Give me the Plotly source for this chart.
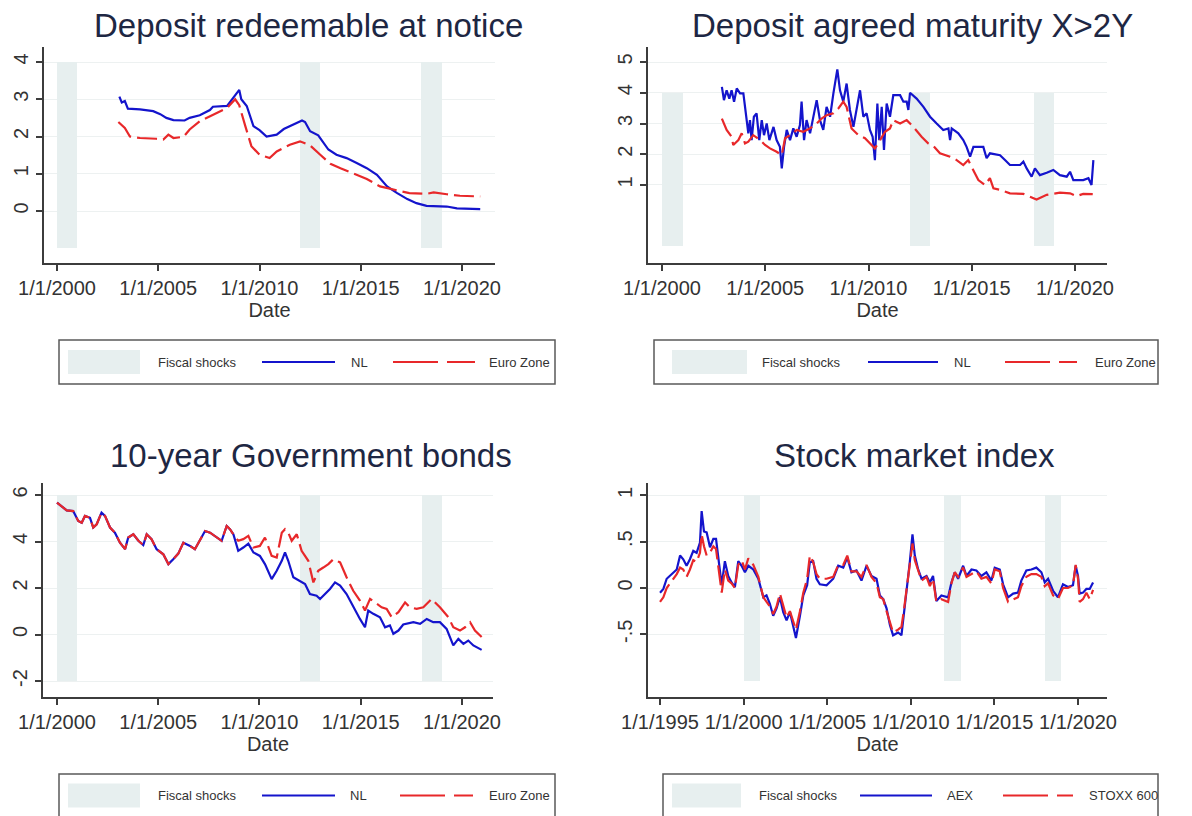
import plotly.graph_objects as go

W, H = 1192, 816

# ---------------- data ----------------
shock_start = [2000, 2012, 2018]
shock_end = [2001, 2013, 2019]

# Panel 1: Deposit redeemable at notice
p1_nl_t = [2003.08, 2003.2, 2003.35, 2003.5, 2004.1, 2004.75, 2005.1, 2005.4, 2005.75, 2006.3, 2006.55,
           2007.05, 2007.55, 2007.7, 2008.4, 2008.7, 2009.0, 2009.1, 2009.37, 2009.7, 2010.0, 2010.35,
           2010.85, 2011.2, 2011.65, 2012.1, 2012.25, 2012.5, 2012.9, 2013.4, 2013.8, 2014.3, 2014.8,
           2015.3, 2015.8, 2016.3, 2016.8, 2017.3, 2017.75, 2018.25, 2019.25, 2019.75, 2020.9]
p1_nl_v = [3.07, 2.91, 2.95, 2.75, 2.73, 2.68, 2.6, 2.5, 2.44, 2.43, 2.5,
           2.57, 2.71, 2.8, 2.82, 3.05, 3.25, 3.0, 2.82, 2.28, 2.17, 2.0,
           2.05, 2.2, 2.32, 2.43, 2.39, 2.14, 2.03, 1.65, 1.51, 1.42, 1.29,
           1.15, 0.97, 0.66, 0.48, 0.32, 0.21, 0.14, 0.12, 0.07, 0.05]
p1_ez_t = [2003.03, 2003.35, 2003.6, 2004.1, 2004.9, 2005.25, 2005.5, 2005.75, 2006.25, 2006.55, 2007.05,
           2007.7, 2008.4, 2008.8, 2009.0, 2009.3, 2009.6, 2010.0, 2010.5, 2010.85, 2011.5, 2012.0,
           2012.5, 2013.0, 2013.5, 2014.0, 2014.6, 2015.3, 2015.95, 2016.6, 2017.4, 2018.25, 2018.6,
           2019.25, 2019.9, 2020.9]
p1_ez_v = [2.39, 2.23, 2.0, 1.96, 1.94, 1.92, 2.05, 1.96, 1.99, 2.19, 2.41,
           2.59, 2.77, 3.0, 2.84, 2.28, 1.74, 1.51, 1.42, 1.6, 1.78, 1.87,
           1.76, 1.51, 1.27, 1.15, 1.02, 0.86, 0.66, 0.57, 0.48, 0.46, 0.5,
           0.45, 0.41, 0.39]

# Panel 2: Deposit agreed maturity X>2Y
p2_nl_t = [2002.9, 2003.0, 2003.13, 2003.26, 2003.37, 2003.49, 2003.62, 2003.78, 2003.94, 2004.1, 2004.18,
           2004.26, 2004.34, 2004.45, 2004.58, 2004.71, 2004.83, 2004.94, 2005.07, 2005.2, 2005.4, 2005.55,
           2005.71, 2005.8, 2005.91, 2006.04, 2006.2, 2006.36, 2006.52, 2006.68, 2006.76, 2006.88, 2007.0,
           2007.17, 2007.33, 2007.49, 2007.65, 2007.81, 2007.97, 2008.14, 2008.3, 2008.49, 2008.62, 2008.78,
           2008.94, 2009.1, 2009.27, 2009.43, 2009.59, 2009.75, 2009.91, 2010.07, 2010.2, 2010.31, 2010.43,
           2010.52, 2010.64, 2010.75, 2010.88, 2011.04, 2011.2, 2011.53, 2011.69, 2011.85, 2011.93, 2012.01,
           2012.33, 2012.66, 2012.98, 2013.3, 2013.62, 2013.87, 2013.95, 2014.03, 2014.35, 2014.59, 2014.75,
           2014.92, 2015.08, 2015.56, 2015.72, 2015.88, 2016.37, 2016.61, 2016.85, 2017.34, 2017.5, 2017.66,
           2017.9, 2018.06, 2018.3, 2018.63, 2018.95, 2019.27, 2019.6, 2019.76, 2019.92, 2020.4, 2020.65,
           2020.8, 2020.89]
p2_nl_v = [4.19, 3.76, 4.08, 3.81, 4.08, 3.71, 4.14, 3.98, 3.98, 3.11, 2.68,
           3.11, 2.46, 3.22, 3.33, 2.46, 3.11, 2.62, 3.0, 2.46, 2.89, 2.46,
           2.24, 1.54, 2.24, 2.79, 2.46, 2.84, 2.57, 2.95, 3.71, 2.46, 3.11,
           2.68, 3.22, 3.76, 3.11, 2.79, 3.54, 3.22, 3.98, 4.76, 4.08, 3.71,
           4.3, 3.44, 2.89, 3.54, 4.08, 3.22, 3.33, 2.79, 2.57, 1.81, 3.65,
           2.46, 3.54, 2.14, 3.65, 3.22, 3.92, 3.92, 3.71, 3.71, 3.44, 4.0,
           3.81, 3.54, 3.22, 3.0, 2.79, 2.84, 2.46, 2.84, 2.68, 2.46, 2.24,
           1.92, 2.24, 2.24, 1.87, 2.03, 1.97, 1.81, 1.65, 1.65, 1.76, 1.54,
           1.27, 1.54, 1.32, 1.4, 1.49, 1.32, 1.27, 1.43, 1.16, 1.16, 1.22,
           1.0, 1.81]
p2_ez_t = [2002.9, 2003.13, 2003.37, 2003.45, 2003.7, 2003.86, 2004.02, 2004.18, 2004.42, 2004.75, 2004.99,
           2005.23, 2005.55, 2005.8, 2005.96, 2006.2, 2006.52, 2006.84, 2007.17, 2007.49, 2007.73, 2007.97,
           2008.3, 2008.54, 2008.78, 2008.94, 2009.18, 2009.51, 2009.83, 2010.07, 2010.31, 2010.56, 2010.8,
           2011.04, 2011.2, 2011.53, 2011.85, 2012.17, 2012.57, 2012.9, 2013.14, 2013.46, 2013.95, 2014.27,
           2014.59, 2014.83, 2015.08, 2015.32, 2015.64, 2015.88, 2016.05, 2016.37, 2016.85, 2017.5, 2017.82,
           2018.14, 2018.63, 2019.27, 2019.76, 2020.08, 2020.4, 2020.86]
p2_ez_v = [3.16, 2.79, 2.57, 2.3, 2.46, 2.68, 2.35, 2.41, 2.62, 2.46, 2.3,
           2.19, 2.08, 1.97, 2.52, 2.62, 2.79, 2.73, 2.84, 3.0, 3.16, 3.27,
           3.33, 3.49, 3.71, 3.54, 2.84, 2.62, 2.52, 2.35, 2.19, 2.46, 2.73,
           2.84, 3.11, 3.0, 3.11, 2.89, 2.57, 2.35, 2.27, 2.03, 1.92, 1.81,
           1.65, 1.81, 1.49, 1.16, 1.0, 1.22, 0.89, 0.84, 0.73, 0.71, 0.62,
           0.53, 0.68, 0.75, 0.73, 0.64, 0.71, 0.7]

# Panel 3: 10-year Government bonds
p3_common_t = [2000.0, 2000.23, 2000.48, 2000.8, 2001.05, 2001.22, 2001.38, 2001.63, 2001.79, 2001.96, 2002.2,
               2002.37, 2002.62, 2002.86, 2003.11, 2003.36, 2003.52, 2003.77, 2004.02, 2004.26, 2004.43,
               2004.67, 2004.92, 2005.25, 2005.5, 2005.74, 2005.99, 2006.24, 2006.57, 2006.81, 2007.06,
               2007.31, 2007.56, 2007.8, 2008.13, 2008.38, 2008.54, 2008.71]
p3_common_v = [5.67, 5.52, 5.34, 5.31, 4.88, 4.81, 5.1, 5.02, 4.6, 4.74, 5.24,
               5.1, 4.6, 4.38, 3.95, 3.67, 4.17, 4.31, 4.03, 3.85, 4.31,
               4.1, 3.67, 3.45, 3.03, 3.24, 3.48, 3.95, 3.81, 3.67, 4.03,
               4.45, 4.38, 4.24, 4.03, 4.67, 4.53, 4.31]
p3_nl_t = p3_common_t + [2008.95, 2009.2, 2009.45, 2009.7, 2010.02, 2010.27, 2010.6, 2010.85, 2011.1, 2011.26,
                         2011.42, 2011.67, 2012.0, 2012.25, 2012.49, 2012.82, 2012.99, 2013.23, 2013.48, 2013.73,
                         2013.98, 2014.3, 2014.63, 2014.96, 2015.21, 2015.37, 2015.62, 2015.95, 2016.2, 2016.44,
                         2016.61, 2016.86, 2017.1, 2017.6, 2017.93, 2018.26, 2018.58, 2018.91, 2019.24, 2019.57,
                         2019.82, 2020.07, 2020.31, 2020.56, 2020.97]
p3_nl_v = p3_common_v + [3.6, 3.74, 3.91, 3.53, 3.38, 3.03, 2.38, 2.74, 3.17, 3.53,
                         3.17, 2.46, 2.31, 2.17, 1.74, 1.67, 1.53, 1.74, 1.96, 2.24,
                         2.1, 1.74, 1.17, 0.67, 0.31, 1.03, 0.89, 0.74, 0.31, 0.39,
                         0.03, 0.17, 0.43, 0.53, 0.46, 0.67, 0.53, 0.53, 0.24, -0.47,
                         -0.19, -0.4, -0.26, -0.47, -0.66]
p3_ez_t = p3_common_t + [2008.95, 2009.2, 2009.45, 2009.7, 2010.02, 2010.27, 2010.6, 2010.85, 2011.1, 2011.26,
                         2011.42, 2011.59, 2011.84, 2012.08, 2012.41, 2012.66, 2012.9, 2013.15, 2013.4, 2013.65,
                         2013.98, 2014.3, 2014.63, 2014.96, 2015.21, 2015.46, 2015.7, 2016.03, 2016.28, 2016.53,
                         2016.86, 2017.19, 2017.43, 2017.76, 2018.09, 2018.5, 2018.91, 2019.33, 2019.57, 2019.9,
                         2020.15, 2020.4, 2020.64, 2020.97]
p3_ez_v = p3_common_v + [4.03, 4.1, 4.24, 3.74, 3.81, 4.17, 3.38, 3.31, 4.38, 4.53,
                         4.38, 4.03, 4.31, 3.6, 3.17, 2.24, 2.74, 2.88, 3.03, 3.24,
                         3.1, 2.46, 1.88, 1.46, 1.03, 1.53, 1.38, 1.17, 1.1, 0.74,
                         0.96, 1.38, 1.17, 1.1, 1.17, 1.53, 1.17, 0.74, 0.31, 0.17,
                         0.31, 0.53, 0.17, -0.11]

# Panel 4: Stock market index
p4_t = [1995.0, 1995.2, 1995.4, 1995.6, 1995.8, 1996.0, 1996.2, 1996.39, 1996.59, 1996.79, 1996.99,
        1997.19, 1997.39, 1997.49, 1997.63, 1997.79, 1997.99, 1998.19, 1998.35, 1998.49, 1998.69, 1998.88,
        1999.08, 1999.28, 1999.48, 1999.68, 1999.88, 2000.08, 2000.28, 2000.58, 2000.88, 2001.18, 2001.37,
        2001.57, 2001.77, 2001.97, 2002.17, 2002.37, 2002.57, 2002.77, 2002.97, 2003.13, 2003.37, 2003.57,
        2003.8, 2003.96, 2004.16, 2004.36, 2004.56, 2004.96, 2005.36, 2005.66, 2005.96, 2006.2, 2006.45,
        2006.75, 2007.05, 2007.35, 2007.65, 2007.95, 2008.15, 2008.35, 2008.55, 2008.75, 2008.94, 2009.24,
        2009.44, 2009.58, 2009.74, 2009.94, 2010.1, 2010.24, 2010.44, 2010.64, 2010.94, 2011.14, 2011.33,
        2011.53, 2011.83, 2012.23, 2012.43, 2012.63, 2012.83, 2013.13, 2013.33, 2013.63, 2013.92, 2014.22,
        2014.52, 2014.82, 2015.02, 2015.32, 2015.52, 2015.82, 2016.12, 2016.41, 2016.61, 2016.91, 2017.21,
        2017.51, 2017.81, 2018.01, 2018.21, 2018.51, 2018.8, 2019.1, 2019.4, 2019.7, 2019.86, 2020.0,
        2020.1, 2020.3, 2020.5, 2020.7, 2020.9]
p4_aex = [-0.05, -0.01, 0.1, 0.13, 0.17, 0.2, 0.35, 0.31, 0.24, 0.31, 0.4,
          0.38, 0.49, 0.83, 0.61, 0.6, 0.44, 0.53, 0.53, 0.31, 0.03, 0.29,
          0.13, 0.06, 0.01, 0.29, 0.24, 0.17, 0.24, 0.2, 0.1, -0.1, -0.08,
          -0.17, -0.3, -0.22, -0.1, -0.26, -0.35, -0.26, -0.4, -0.54, -0.3, -0.08,
          0.03, 0.28, 0.29, 0.1, 0.04, 0.03, 0.1, 0.24, 0.22, 0.33, 0.17,
          0.19, 0.08, 0.24, 0.13, 0.1, -0.08, -0.12, -0.22, -0.4, -0.51, -0.48,
          -0.51, -0.3, -0.08, 0.28, 0.58, 0.35, 0.2, 0.1, 0.13, 0.06, 0.13,
          -0.14, -0.08, -0.1, 0.06, 0.17, 0.1, 0.24, 0.13, 0.2, 0.19, 0.13,
          0.17, 0.08, 0.22, 0.2, 0.04, -0.1, -0.06, -0.05, 0.08, 0.19, 0.2,
          0.22, 0.17, 0.06, 0.1, -0.03, -0.1, 0.04, 0.01, 0.03, 0.24, 0.13,
          -0.06, -0.05, -0.01, -0.01, 0.06]
p4_stoxx = [-0.15, -0.1, 0.0, 0.05, 0.1, 0.15, 0.22, 0.2, 0.12, 0.2, 0.3,
            0.28, 0.38, 0.58, 0.45, 0.35, 0.38, 0.45, 0.42, 0.2, -0.05, 0.2,
            0.08, 0.05, 0.0, 0.25, 0.3, 0.2, 0.32, 0.25, 0.12, -0.1, -0.15,
            -0.2, -0.28, -0.2, -0.06, -0.2, -0.32, -0.25, -0.35, -0.45, -0.25, -0.05,
            0.1, 0.35, 0.28, 0.15, 0.1, 0.1, 0.12, 0.25, 0.25, 0.35, 0.18,
            0.18, 0.12, 0.25, 0.12, 0.05, -0.1, -0.12, -0.25, -0.38, -0.48, -0.45,
            -0.42, -0.25, -0.02, 0.3, 0.48, 0.3, 0.18, 0.08, 0.12, 0.02, 0.1,
            -0.15, -0.12, -0.15, 0.05, 0.17, 0.12, 0.22, 0.12, 0.15, 0.18, 0.1,
            0.12, 0.05, 0.2, 0.18, 0.0, -0.15, -0.12, -0.1, 0.02, 0.12, 0.15,
            0.15, 0.12, 0.02, 0.05, -0.08, -0.12, 0.0, 0.0, 0.03, 0.25, 0.1,
            -0.15, -0.12, -0.05, -0.12, -0.02]

# shading band bounds (value of the plotted fiscal-shock indicator)
p1_band = (-1, 4)
p2_band = (-1, 4)
p3_band = (-2, 6)
p4_band = (-1, 1)

# tick labels
tick_years_a = [2000, 2005, 2010, 2015, 2020]
tick_text_a = ["1/1/2000", "1/1/2005", "1/1/2010", "1/1/2015", "1/1/2020"]
tick_years_b = [1995, 2000, 2005, 2010, 2015, 2020]
tick_text_b = ["1/1/1995", "1/1/2000", "1/1/2005", "1/1/2010", "1/1/2015", "1/1/2020"]
p1_yticks, p1_ytext = [0, 1, 2, 3, 4], ["0", "1", "2", "3", "4"]
p2_yticks, p2_ytext = [1, 2, 3, 4, 5], ["1", "2", "3", "4", "5"]
p3_yticks, p3_ytext = [-2, 0, 2, 4, 6], ["-2", "0", "2", "4", "6"]
p4_yticks, p4_ytext = [-0.5, 0, 0.5, 1], ["-.5", "0", ".5", "1"]

titles = ["Deposit redeemable at notice", "Deposit agreed maturity X>2Y",
          "10-year Government bonds", "Stock market index"]
legend_names = [("Fiscal shocks", "NL", "Euro Zone"), ("Fiscal shocks", "NL", "Euro Zone"),
                ("Fiscal shocks", "NL", "Euro Zone"), ("Fiscal shocks", "AEX", "STOXX 600")]

# ---------------- styling ----------------
BLUE = "#1414cc"
RED = "#e8282a"
SHADE = "#e7efef"
AXIS = "#3c3c3c"
TXT = "#333333"
TITLE = "#1e2743"
FONT = "Liberation Sans, Arial, sans-serif"


def fx(px):
    return px / W


def fy(py):
    return 1 - py / H


# panel geometry (pixels) and axis ranges
panels = [
    dict(x0=44, x1=495, ytop=47, ybot=263, xr=[1999.358, 2021.630], yr=[-1.396, 4.403],
         nl=(p1_nl_t, p1_nl_v), ez=(p1_ez_t, p1_ez_v), band=p1_band,
         yt=(p1_yticks, p1_ytext), xt=(tick_years_a, tick_text_a), tcx=309, tcy=25),
    dict(x0=648, x1=1107, ytop=47, ybot=263, xr=[1999.322, 2021.55], yr=[-1.537, 5.488],
         nl=(p2_nl_t, p2_nl_v), ez=(p2_ez_t, p2_ez_v), band=p2_band,
         yt=(p2_yticks, p2_ytext), xt=(tick_years_a, tick_text_a), tcx=912, tcy=25),
    dict(x0=43, x1=493, ytop=483, ybot=697, xr=[1999.309, 2021.531], yr=[-2.688, 6.516],
         nl=(p3_nl_t, p3_nl_v), ez=(p3_ez_t, p3_ez_v), band=p3_band,
         yt=(p3_yticks, p3_ytext), xt=(tick_years_a, tick_text_a), tcx=311, tcy=455),
    dict(x0=648, x1=1107, ytop=483, ybot=697, xr=[1994.282, 2021.734], yr=[-1.176, 1.133],
         nl=(p4_t, p4_aex), ez=(p4_t, p4_stoxx), band=p4_band,
         yt=(p4_yticks, p4_ytext), xt=(tick_years_b, tick_text_b), tcx=914, tcy=455),
]

# legend geometry (pixels)
legends = [
    dict(bx0=59, bx1=555, by0=340, by1=384, k0=68, k1=140, t1=156, l0=262, l1=335, t2=349, d0=393, d1=475, t3=487),
    dict(bx0=654, bx1=1158, by0=340, by1=384, k0=672, k1=747, t1=760, l0=868, l1=938, t2=952, d0=1005, d1=1077, t3=1093),
    dict(bx0=59, bx1=555, by0=774, by1=822, k0=68, k1=140, t1=156, l0=262, l1=335, t2=348, d0=400, d1=473, t3=487),
    dict(bx0=663, bx1=1158, by0=774, by1=822, k0=672, k1=741, t1=757, l0=860, l1=932, t2=945, d0=1003, d1=1073, t3=1087),
]

fig = go.Figure()
layout = dict(width=W, height=H, margin=dict(l=0, r=0, t=0, b=0, pad=0, autoexpand=False), autosize=False,
              paper_bgcolor="white", plot_bgcolor="white", showlegend=False,
              font=dict(family=FONT, color=TXT), bargap=0)
annotations = []
shapes = []

for i, p in enumerate(panels):
    n = i + 1
    xa = "x" if n == 1 else f"x{n}"
    ya = "y" if n == 1 else f"y{n}"
    lo, hi = p["band"]
    fig.add_trace(go.Bar(x=[(a + b) / 2 for a, b in zip(shock_start, shock_end)],
                         y=[hi - lo] * len(shock_start), base=[lo] * len(shock_start),
                         width=[b - a for a, b in zip(shock_start, shock_end)],
                         marker=dict(color=SHADE, line=dict(width=0)),
                         xaxis=xa, yaxis=ya, name="Fiscal shocks", hoverinfo="skip"))
    fig.add_trace(go.Scatter(x=p["nl"][0], y=p["nl"][1], mode="lines",
                             line=dict(color=BLUE, width=2.2), xaxis=xa, yaxis=ya,
                             name=legend_names[i][1]))
    fig.add_trace(go.Scatter(x=p["ez"][0], y=p["ez"][1], mode="lines",
                             line=dict(color=RED, width=2.2, dash="20px,6px"), xaxis=xa, yaxis=ya,
                             name=legend_names[i][2]))
    xkey = "xaxis" if n == 1 else f"xaxis{n}"
    ykey = "yaxis" if n == 1 else f"yaxis{n}"
    layout[xkey] = dict(domain=[fx(p["x0"]), fx(p["x1"])], range=p["xr"], anchor=ya, automargin=False,
                        showline=True, linecolor=AXIS, linewidth=1.5, ticks="outside",
                        ticklen=6, tickcolor=AXIS, tickwidth=1.5, showgrid=False, zeroline=False,
                        tickvals=p["xt"][0], ticktext=p["xt"][1],
                        tickfont=dict(size=20, color=TXT, family=FONT),
                        title=dict(text="Date", font=dict(size=20, color=TXT, family=FONT), standoff=2))
    layout[ykey] = dict(domain=[fy(p["ybot"]), fy(p["ytop"])], range=p["yr"], anchor=xa, automargin=False,
                        showline=True, linecolor=AXIS, linewidth=1.5, ticks="outside",
                        ticklen=6, tickcolor=AXIS, tickwidth=1.5, showgrid=True,
                        gridcolor="#edf1f1", gridwidth=1, zeroline=False,
                        tickvals=p["yt"][0], ticktext=p["yt"][1], tickangle=-90,
                        tickfont=dict(size=20, color=TXT, family=FONT))
    annotations.append(dict(text=titles[i], x=fx(p["tcx"]), y=fy(p["tcy"]), xref="paper", yref="paper",
                            xanchor="center", yanchor="middle", showarrow=False,
                            font=dict(size=33, color=TITLE, family=FONT)))

    # legend box
    L = legends[i]
    cy = 795.5 if i >= 2 else 362
    shapes.append(dict(type="rect", xref="paper", yref="paper", x0=fx(L["bx0"]), x1=fx(L["bx1"]),
                       y0=fy(L["by1"]), y1=fy(L["by0"]), line=dict(color="#5a5a5a", width=1.5),
                       fillcolor="rgba(0,0,0,0)"))
    shapes.append(dict(type="rect", xref="paper", yref="paper", x0=fx(L["k0"]), x1=fx(L["k1"]),
                       y0=fy(cy + 12), y1=fy(cy - 12), line=dict(width=0), fillcolor=SHADE))
    shapes.append(dict(type="line", xref="paper", yref="paper", x0=fx(L["l0"]), x1=fx(L["l1"]),
                       y0=fy(cy), y1=fy(cy), line=dict(color=BLUE, width=2)))
    shapes.append(dict(type="line", xref="paper", yref="paper", x0=fx(L["d0"]), x1=fx(L["d1"]),
                       y0=fy(cy), y1=fy(cy), line=dict(color=RED, width=2, dash="45px,9px")))
    for tx, label in zip((L["t1"], L["t2"], L["t3"]), legend_names[i]):
        annotations.append(dict(text=label, x=fx(tx), y=fy(cy), xref="paper", yref="paper",
                                xanchor="left", yanchor="middle", showarrow=False,
                                font=dict(size=13, color=TXT, family=FONT)))

layout["annotations"] = annotations
layout["shapes"] = shapes
fig.update_layout(**layout)
fig.write_html("out.html")
